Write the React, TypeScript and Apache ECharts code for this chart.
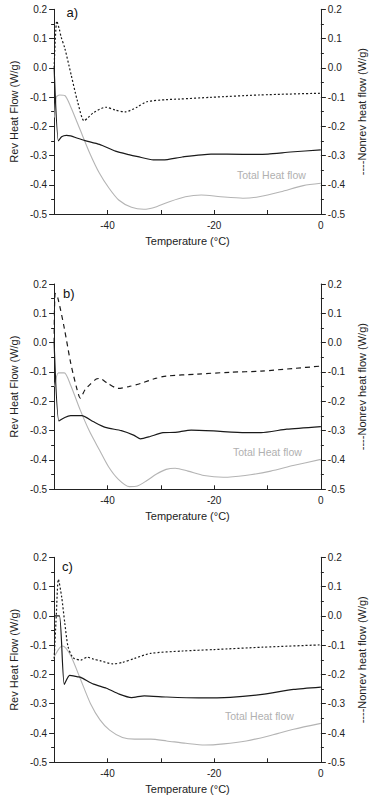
import React, { useEffect, useRef } from "react";
import * as echarts from "echarts";

// ---------- data ----------
const panelLabels = ["a)", "b)", "c)"];
const xTickLabels = [-40, -20, 0];
const totalLabel = "Total Heat flow";
const revName = "Rev Heat Flow (W/g)";
const nonrevName = "----Nonrev heat flow (W/g)";
const xName = "Temperature (°C)";

// Panel a
const tRevA = [-50, -49.2, -48.6, -47.7, -46.9, -45.6, -44.2, -41.5, -38.5, -36, -34.3, -31.4, -29.6, -26, -20.6, -14.6, -9.9, -5.7, 0];
const revA = [0.0, -0.25, -0.236, -0.231, -0.233, -0.241, -0.249, -0.262, -0.285, -0.297, -0.304, -0.315, -0.315, -0.305, -0.295, -0.296, -0.295, -0.288, -0.281];
const tNonA = [-50, -49.5, -49.0, -48.7, -48.0, -46.8, -45.6, -44.4, -43.6, -42.6, -40.3, -38.5, -36.7, -34.5, -32.6, -29, -26.6, -20.6, -11.6, 0];
const nonA = [0.0, 0.16, 0.13, 0.106, 0.067, -0.025, -0.116, -0.181, -0.17, -0.153, -0.135, -0.145, -0.151, -0.135, -0.116, -0.109, -0.107, -0.101, -0.093, -0.087];
const tTotA = [-49.9, -49.6, -49.0, -48.0, -46.9, -45.1, -43.3, -41.5, -39.7, -37.9, -35.5, -33.2, -30.8, -28.4, -25.4, -22.4, -18.8, -14.6, -11.6, -7.5, -3.3, 0];
const totA = [-0.17, -0.1, -0.093, -0.095, -0.133, -0.213, -0.293, -0.361, -0.412, -0.452, -0.477, -0.484, -0.475, -0.458, -0.441, -0.435, -0.441, -0.446, -0.441, -0.424, -0.403, -0.395];

// Panel b
const tRevB = [-50, -49.1, -48, -46.9, -44.8, -42.7, -40.4, -37.4, -35, -33.8, -32, -29.6, -27.3, -24.3, -20.1, -14.2, -11.2, -6.4, 0];
const revB = [0.0, -0.267, -0.255, -0.249, -0.249, -0.269, -0.289, -0.3, -0.316, -0.328, -0.32, -0.307, -0.306, -0.298, -0.301, -0.307, -0.307, -0.295, -0.286];
const tNonB = [-50, -49.8, -49.3, -48.1, -46.9, -45.7, -45.1, -44.2, -43.3, -42.1, -41.5, -40, -38, -36, -33.8, -31, -29, -23.1, -17.1, -11.2, -5.2, 0];
const nonB = [0.0, 0.168, 0.152, 0.05, -0.069, -0.16, -0.189, -0.16, -0.143, -0.124, -0.122, -0.138, -0.156, -0.15, -0.139, -0.122, -0.114, -0.107, -0.101, -0.097, -0.088, -0.08];
const tTotB = [-49.9, -49.2, -48.1, -46.9, -45.1, -43.3, -41.5, -39.8, -38, -35.9, -34.4, -32.6, -30.8, -29, -27.3, -24.9, -21.9, -18.3, -14.2, -9.4, -5.2, 0];
const totB = [-0.15, -0.103, -0.103, -0.145, -0.23, -0.305, -0.366, -0.423, -0.465, -0.491, -0.489, -0.47, -0.448, -0.432, -0.428, -0.438, -0.453, -0.459, -0.453, -0.438, -0.419, -0.398];

// Panel c
const tRevC = [-50, -49, -48.1, -47.1, -45.6, -45, -42.6, -40.2, -37.8, -35.5, -33.1, -28.9, -22.9, -17, -11, -5.1, 0];
const revC = [0.0, 0.0, -0.234, -0.203, -0.208, -0.21, -0.233, -0.247, -0.267, -0.279, -0.273, -0.277, -0.28, -0.278, -0.268, -0.251, -0.243];
const tNonC = [-50, -49.6, -49.2, -48.6, -48, -47.4, -46.6, -46.2, -45, -43.8, -42.6, -41.4, -39, -37.2, -34.9, -31.9, -25.9, -20, -11, 0];
const nonC = [-0.146, 0.0, 0.125, 0.066, -0.025, -0.105, -0.14, -0.146, -0.151, -0.141, -0.148, -0.153, -0.164, -0.159, -0.145, -0.128, -0.12, -0.115, -0.107, -0.099];
const tTotC = [-50, -49.2, -48.5, -47.8, -46.8, -45, -43.2, -41.4, -39.6, -37.2, -34.9, -31.9, -28.9, -25.3, -21.8, -18.2, -14, -9.8, -5.1, 0];
const totC = [-0.14, -0.115, -0.103, -0.11, -0.139, -0.219, -0.299, -0.355, -0.39, -0.415, -0.421, -0.421, -0.427, -0.435, -0.441, -0.437, -0.427, -0.41, -0.387, -0.367];

const panels = [
  { rev: [tRevA, revA], non: [tNonA, nonA], tot: [tTotA, totA], nonDash: [2, 2] },
  { rev: [tRevB, revB], non: [tNonB, nonB], tot: [tTotB, totB], nonDash: [5, 4] },
  { rev: [tRevC, revC], non: [tNonC, nonC], tot: [tTotC, totC], nonDash: [2, 2] },
];

// ---------- layout ----------
const FONT = "'Liberation Sans', Arial, sans-serif";
const grids = [
  { left: 52.7, top: 9.3, width: 279, height: 204.7 },
  { left: 49.3, top: 284, width: 280, height: 205.3 },
  { left: 48.7, top: 557.3, width: 279.6, height: 205 },
];
const labelPos = [
  { x: 66.5, y: 12.7 },
  { x: 63, y: 293.3 },
  { x: 62, y: 566.7 },
];
const totalPos = [
  { x: 237, y: 175 },
  { x: 233, y: 451.7 },
  { x: 225, y: 715.7 },
];

const zip = (t: number[], v: number[]) => t.map((x, i) => [x, v[i]]);

export default function App() {
  const ref = useRef<HTMLDivElement>(null);
  useEffect(() => {
    if (!ref.current) return;
    const chart = echarts.init(ref.current, undefined, { renderer: "svg" });
    const axisColor = "#222";
    const xAxes: any[] = [];
    const yAxes: any[] = [];
    const series: any[] = [];
    const graphics: any[] = [];
    panels.forEach((p, i) => {
      xAxes.push({
        type: "value",
        gridIndex: i,
        min: -50,
        max: 0,
        interval: 10,
        axisLine: { show: true, onZero: false, lineStyle: { color: axisColor, width: 1 } },
        axisTick: { show: true, inside: true, length: 4, lineStyle: { color: axisColor } },
        axisLabel: {
          formatter: (v: number) => (xTickLabels.includes(v) ? String(v) : ""),
          fontSize: 10,
          color: axisColor,
          margin: 6,
          fontFamily: FONT,
        },
        splitLine: { show: false },
        name: xName,
        nameLocation: "middle",
        nameGap: 21,
        nameTextStyle: { fontSize: 11, color: axisColor, fontFamily: FONT },
      });
      const yBase = {
        type: "value",
        gridIndex: i,
        min: -0.5,
        max: 0.2,
        interval: 0.1,
        axisLine: { show: true, onZero: false, lineStyle: { color: axisColor, width: 1 } },
        axisTick: { show: true, inside: false, length: 5, lineStyle: { color: axisColor } },
        minorTick: { show: true, splitNumber: 2, length: 3, lineStyle: { color: axisColor } },
        axisLabel: {
          formatter: (v: number) => (Math.round(v * 10) / 10).toFixed(1),
          fontSize: 10,
          color: axisColor,
          margin: 7,
          fontFamily: FONT,
        },
        splitLine: { show: false },
        minorSplitLine: { show: false },
        nameLocation: "middle",
        nameRotate: 90,
        nameTextStyle: { fontSize: 11, color: axisColor, fontFamily: FONT },
      };
      yAxes.push({ ...yBase, position: "left", name: revName, nameGap: 35 });
      yAxes.push({ ...yBase, position: "right", name: nonrevName, nameGap: 23 });

      series.push({
        type: "line",
        xAxisIndex: i,
        yAxisIndex: 2 * i,
        data: zip(p.tot[0], p.tot[1]),
        showSymbol: false,
        smooth: 0.25,
        lineStyle: { color: "#b4b4b4", width: 1.1 },
      });
      series.push({
        type: "line",
        xAxisIndex: i,
        yAxisIndex: 2 * i,
        data: zip(p.rev[0], p.rev[1]),
        showSymbol: false,
        smooth: 0.2,
        lineStyle: { color: "#1a1a1a", width: 1.2 },
      });
      series.push({
        type: "line",
        xAxisIndex: i,
        yAxisIndex: 2 * i + 1,
        data: zip(p.non[0], p.non[1]),
        showSymbol: false,
        smooth: 0.25,
        lineStyle: { color: "#1a1a1a", width: 1.2, type: p.nonDash },
      });

      graphics.push({
        type: "text",
        x: labelPos[i].x,
        y: labelPos[i].y,
        style: {
          text: panelLabels[i],
          fill: "#111",
          font: `13px ${FONT}`,
          textVerticalAlign: "middle",
          verticalAlign: "middle",
        },
      });
      graphics.push({
        type: "text",
        x: totalPos[i].x,
        y: totalPos[i].y,
        style: {
          text: totalLabel,
          fill: "#b0b0b0",
          font: `10.5px ${FONT}`,
          textVerticalAlign: "middle",
          verticalAlign: "middle",
        },
      });
    });

    chart.setOption({
      animation: false,
      backgroundColor: "#fff",
      textStyle: { fontFamily: FONT },
      grid: grids,
      xAxis: xAxes,
      yAxis: yAxes,
      series,
      graphic: graphics,
    });
    return () => chart.dispose();
  }, []);
  return (
    <div
      ref={ref}
      style={{ position: "absolute", left: 0, top: 0, width: 375, height: 808, background: "#fff" }}
    />
  );
}
